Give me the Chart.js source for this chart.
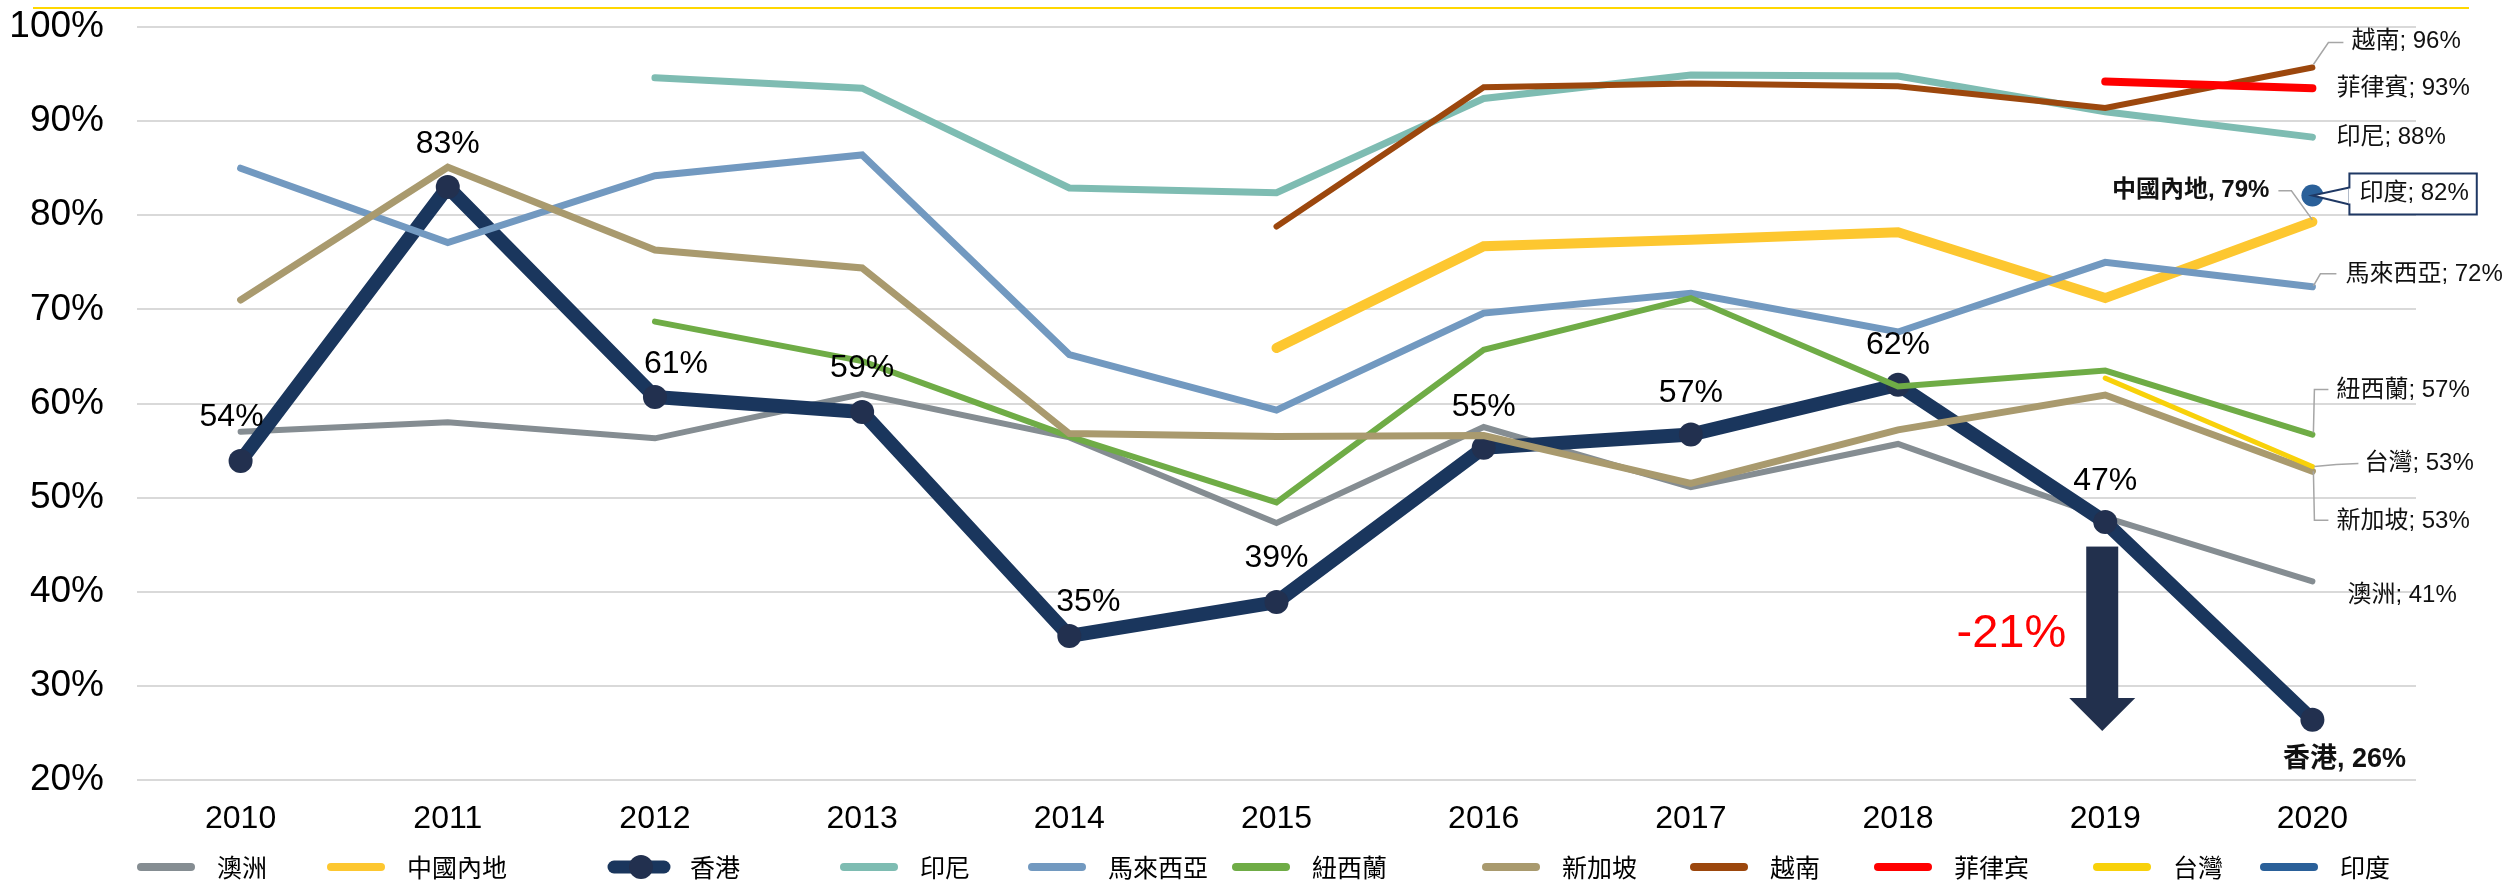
<!DOCTYPE html>
<html lang="zh-Hant">
<head>
<meta charset="utf-8">
<title>亞太地區比較 2010-2020</title>
<script src="https://cdn.jsdelivr.net/npm/chart.js@4.4.1/dist/chart.umd.min.js"></script>
<style>
  html, body { margin: 0; padding: 0; background: #fff; }
  #wrap { width: 2509px; height: 885px; }
</style>
</head>
<body>
<div id="wrap"><canvas id="chart" width="2509" height="885"></canvas></div>
<script>
  /* ---------- data ---------- */
  const years = ["2010", "2011", "2012", "2013", "2014", "2015", "2016", "2017", "2018", "2019", "2020"];
  const seriesNames = ["澳洲", "中國內地", "香港", "印尼", "馬來西亞", "紐西蘭", "新加坡", "越南", "菲律宾", "台灣", "印度"];

  const australia   = [57.0, 58.0, 56.3, 61.0, 56.4, 47.3, 57.5, 51.1, 55.7, 47.9, 41.1];
  const mainland    = [null, null, null, null, null, 65.9, 76.7, 77.4, 78.2, 71.2, 79.3];
  const hongKong    = [53.9, 83.0, 60.7, 59.1, 35.3, 38.9, 55.3, 56.7, 62.0, 47.4, 26.4];
  const indonesia   = [null, null, 94.6, 93.5, 82.9, 82.4, 92.4, 94.9, 94.8, 91.0, 88.3];
  const malaysia    = [85.0, 77.1, 84.2, 86.4, 65.2, 59.3, 69.6, 71.7, 67.6, 75.0, 72.4];
  const newZealand  = [null, null, 68.7, 64.5, 56.5, 49.5, 65.7, 71.2, 61.8, 63.5, 56.7];
  const singapore   = [71.0, 85.1, 76.3, 74.4, 56.8, 56.5, 56.6, 51.5, 57.2, 60.9, 52.8];
  const vietnam     = [null, null, null, null, null, 78.8, 93.6, 94.0, 93.7, 91.4, 95.7];
  const philippines = [null, null, null, null, null, null, null, null, null, 94.2, 93.5];
  const taiwan      = [null, null, null, null, null, null, null, null, null, 62.7, 53.3];
  const india       = [null, null, null, null, null, null, null, null, null, null, 82.1];

  // labels at the 2020 end of each series
  const endLabels = ["澳洲; 41%", "中國內地, 79%", "香港, 26%", "印尼; 88%", "馬來西亞; 72%", "紐西蘭; 57%",
                     "新加坡; 53%", "越南; 96%", "菲律賓; 93%", "台灣; 53%", "印度; 82%"];
  const dropLabel = "-21%";

  /* ---------- styles ---------- */
  const colors = ["#858D92", "#FDC730", "#1A365D", "#7EBCB2", "#7299C0", "#6FAC46",
                  "#A99A6E", "#9C470D", "#FF0000", "#F8D10A", "#2A6099"];
  const widths = [6, 10, 14, 7, 7, 6, 7, 6, 8, 5, 0];
  const allSeries = [australia, mainland, hongKong, indonesia, malaysia, newZealand,
                     singapore, vietnam, philippines, taiwan, india];

  const FONT = "'Liberation Sans', 'Noto Sans CJK TC', sans-serif";
  const CJK = "'Noto Sans CJK TC', 'Liberation Sans', sans-serif";

  // label nudges for the Hong Kong data labels (pixels from the point)
  const hkLabelDx = [-9, 0, 21, 0, 19, 0, 0, 0, 0, 0];
  const hkLabelDy = [-44, -43, -33, -44, -34, -44, -41, -41, -40, -41];

  // where each end label sits relative to its 2020 point, plus leader lines
  const endLayout = [
    { dx: 35, dy: 14, align: "left" },
    { dx: -43, dy: -31, align: "right", bold: true, leader: [[0, -2], [-21, -31], [-34, -31]] },
    { dx: 32, dy: 40, align: "center", bold: true, size: 27 },
    { dx: 24, dy: 0, align: "left" },
    { dx: 33, dy: -12, align: "left", leader: [[1, -1], [8, -13], [24, -13]] },
    { dx: 24, dy: -44, align: "left", leader: [[1, -2], [2, -45], [16, -45]] },
    { dx: 24, dy: 50, align: "left", leader: [[1, 0], [2, 49], [16, 49]] },
    { dx: 39, dy: -26, align: "left", leader: [[1, -3], [16, -25], [31, -25]] },
    { dx: 24, dy: 0, align: "left" },
    { dx: 52, dy: -3, align: "left", leader: [[2, 0], [24, -2], [46, -3]] },
    { dx: 47, dy: -2, align: "left", box: true },
  ];

  // legend line start positions along the bottom
  const legendX = [137, 327, 610, 840, 1028, 1232, 1482, 1690, 1874, 2093, 2260];

  /* ---------- overlay: labels, arrow, legend ---------- */
  const overlay = {
    id: "overlay",
    afterDatasetsDraw(chart) {
      const ctx = chart.ctx;
      const xs = chart.scales.x, ys = chart.scales.y;
      ctx.save();

      // thin gold rule across the top
      ctx.strokeStyle = "#FFD700";
      ctx.lineWidth = 2;
      ctx.beginPath(); ctx.moveTo(33, 8); ctx.lineTo(2469, 8); ctx.stroke();

      // Hong Kong values above the markers
      const hk = chart.getDatasetMeta(2);
      ctx.fillStyle = "#000";
      ctx.font = "32px " + FONT;
      ctx.textAlign = "center";
      ctx.textBaseline = "middle";
      hongKong.slice(0, -1).forEach((v, i) => {
        const p = hk.data[i];
        ctx.fillText(Math.round(v) + "%", p.x + hkLabelDx[i], p.y + hkLabelDy[i]);
      });

      // end labels
      const last = years.length - 1;
      endLayout.forEach((lay, i) => {
        const p = chart.getDatasetMeta(i).data[last];
        if (!p) return;
        if (lay.leader) {
          ctx.strokeStyle = "#A6A6A6";
          ctx.lineWidth = 1.5;
          ctx.beginPath();
          lay.leader.forEach(([lx, ly], k) => {
            if (k === 0) ctx.moveTo(p.x + lx, p.y + ly); else ctx.lineTo(p.x + lx, p.y + ly);
          });
          ctx.stroke();
        }
        const size = lay.size || 24;
        ctx.font = (lay.bold ? "bold " : "") + size + "px " + FONT;
        ctx.textAlign = lay.align;
        ctx.textBaseline = "middle";
        const tx = p.x + lay.dx, ty = p.y + lay.dy;
        if (lay.box) {
          const w = ctx.measureText(endLabels[i]).width + 18;
          const bx = tx - 10, by = ty - 20, bh = 41;
          ctx.fillStyle = "#fff";
          ctx.strokeStyle = "#1F3864";
          ctx.lineWidth = 2;
          ctx.beginPath();
          ctx.moveTo(bx, ty - 6); ctx.lineTo(p.x, p.y); ctx.lineTo(bx, ty + 11);
          ctx.closePath();
          ctx.fill(); ctx.stroke();
          ctx.fillRect(bx, by, w, bh);
          ctx.strokeRect(bx, by, w, bh);
          ctx.fillRect(bx - 1, ty - 5, 4, 15);
        }
        ctx.fillStyle = "#111";
        ctx.fillText(endLabels[i], tx, ty);
      });

      // drop arrow 2019 -> 2020
      const ax = xs.getPixelForValue(9) - 3;
      const aTop = ys.getPixelForValue(44.8);
      const aBase = ys.getPixelForValue(28.7);
      const aTip = ys.getPixelForValue(25.2);
      ctx.fillStyle = "#22304D";
      ctx.fillRect(ax - 16, aTop, 32, aBase - aTop + 1);
      ctx.beginPath();
      ctx.moveTo(ax - 33, aBase); ctx.lineTo(ax + 33, aBase); ctx.lineTo(ax, aTip);
      ctx.closePath(); ctx.fill();

      ctx.fillStyle = "#FF0000";
      ctx.font = "47px " + FONT;
      ctx.textAlign = "right";
      ctx.fillText(dropLabel, ax - 36, ys.getPixelForValue(35.5));

      // legend
      const ly = 867;
      seriesNames.forEach((name, i) => {
        const x0 = legendX[i];
        ctx.strokeStyle = colors[i];
        ctx.lineCap = "round";
        ctx.lineWidth = i === 2 ? 13 : 8;
        ctx.beginPath(); ctx.moveTo(x0 + 4, ly); ctx.lineTo(x0 + 54, ly); ctx.stroke();
        if (i === 2) {
          ctx.fillStyle = "#22304F";
          ctx.beginPath(); ctx.arc(x0 + 31, ly, 12, 0, Math.PI * 2); ctx.fill();
        }
        ctx.fillStyle = "#000";
        ctx.font = "25px " + CJK;
        ctx.textAlign = "left";
        ctx.fillText(name, x0 + 80, ly);
      });

      ctx.restore();
    },
  };

  /* ---------- chart ---------- */
  const datasets = allSeries.map((data, i) => ({
    label: seriesNames[i],
    data: data,
    borderColor: colors[i],
    backgroundColor: colors[i],
    borderWidth: widths[i],
    borderCapStyle: "round",
    borderJoinStyle: "miter",
    tension: 0,
    spanGaps: false,
    pointRadius: i === 2 ? 12 : (i === 10 ? 11 : 0),
    pointBackgroundColor: i === 2 ? "#22304F" : colors[i],
    pointBorderWidth: 0,
    pointHoverRadius: 0,
    order: allSeries.length - i,
    clip: false,
  }));

  new Chart(document.getElementById("chart"), {
    type: "line",
    data: { labels: years, datasets: datasets },
    options: {
      responsive: false,
      animation: false,
      devicePixelRatio: 1,
      layout: { padding: { top: 27, right: 93, left: 0, bottom: 0 } },
      plugins: { legend: { display: false }, tooltip: { enabled: false } },
      scales: {
        x: {
          offset: true,
          grid: { display: false, drawTicks: false },
          border: { display: false },
          ticks: { color: "#000", font: { family: FONT, size: 32 }, padding: 20 },
          afterFit: (s) => { s.height = 105; s.paddingLeft = 0; s.paddingRight = 0; },
        },
        y: {
          min: 20,
          max: 100,
          grid: { color: "#D9D9D9", lineWidth: 2, drawTicks: false },
          border: { display: false },
          ticks: {
            stepSize: 10,
            color: "#000",
            font: { family: FONT, size: 37 },
            padding: 33,
            callback: (v) => v + "%",
          },
          afterFit: (s) => { s.width = 137; s.paddingTop = 0; s.paddingBottom = 0; },
        },
      },
    },
    plugins: [overlay],
  });
</script>
</body>
</html>
